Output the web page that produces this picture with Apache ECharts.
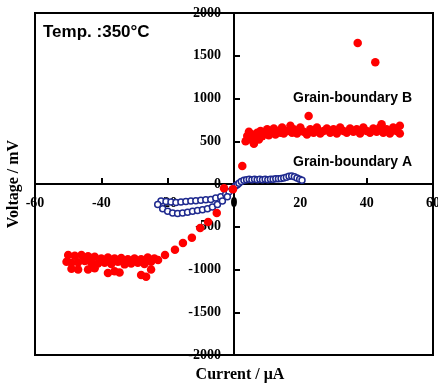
<!DOCTYPE html>
<html>
<head>
<meta charset="utf-8">
<script src="https://cdn.jsdelivr.net/npm/echarts@6/dist/echarts.min.js"></script>
<style>
  html, body { margin: 0; padding: 0; background: #fff; }
  #chart { width: 438px; height: 383px; }
</style>
</head>
<body>
<div id="chart"></div>
<script>
// Grain-boundary B (red filled)
const bCurrent = [
  -0.3, -3, 2.5, -5.2, -7.8, -10.2, -12.7, -15.4, -17.8, -20.8, -22.9,
  -50, -48, -46, -44, -42, -40, -38, -36, -34, -32, -30, -28, -26, -24,
  -50.5, -49, -47, -45, -43, -41, -39, -37, -35, -33, -31, -29, -27, -25,
  -49, -47, -44, -42, -38, -36, -34.5, -28, -26.5, -25,
  3.5, 4, 4.5, 5, 5.5, 6, 6.5, 7, 7.5, 8, 8.5, 9, 10, 10.5, 11, 12, 12.5, 13, 14, 14.5,
  15, 16, 17, 17.5, 18, 19, 20, 21, 22, 22.5, 23, 24, 25, 26, 27, 28, 29, 30, 31, 32,
  33, 34, 35, 36, 37, 37.3, 38, 39, 40, 41, 42, 42.6, 43, 44, 44.5, 45, 46, 47, 48, 49, 50, 50
];
const bVoltage = [
  -60, -50, 210, -340, -445, -515, -630, -690, -770, -830, -890,
  -830, -840, -830, -845, -850, -870, -860, -870, -865, -880, -870, -880, -860, -870,
  -910, -920, -915, -900, -925, -930, -920, -935, -910, -940, -930, -920, -935, -910,
  -990, -1000, -1000, -985, -1040, -1020, -1035, -1065, -1085, -1000,
  500, 560, 610, 520, 580, 470, 560, 600, 520, 620, 560, 600, 640, 570, 610, 650, 580, 620, 600, 660,
  590, 620, 680, 600, 640, 590, 660, 610, 580, 795, 640, 600, 660, 590, 620, 650, 600, 640, 590, 660,
  620, 600, 650, 610, 640, 1650, 590, 660, 620, 600, 650, 1425, 610, 660, 700, 600, 640, 590, 660, 620, 680, 590
];

// Grain-boundary A (blue open)
const aCurrent = [
  -22, -20.5, -19, -17.5, -16, -14.5, -13, -11.5, -10, -8.5, -7, -5.5, -4, -2.5, -1.5,
  -23, -21.5, -20, -18.5, -17, -15.5, -14, -12.5, -11, -9.5, -8, -6.5, -5, -3.5, -2,
  -0.5, 0.5, 1,
  1.5, 2.2, 3, 3.8, 4.6, 5.4, 6.2, 7, 7.8, 8.6, 9.4, 10.2, 11, 11.8, 12.6, 13.4, 14.2,
  15, 15.8, 16.6, 17.4, 18.2, 19, 19.8, 20.5
];
const aVoltage = [
  -200, -205, -210, -215, -210, -205, -200, -195, -190, -185, -180, -165, -150, -120, -90,
  -240, -290, -320, -340, -345, -340, -330, -320, -310, -300, -290, -270, -240, -200, -150,
  -60, -20, -10,
  10, 30, 45, 50, 55, 50, 55, 50, 55, 50, 55, 50, 55, 55, 60, 60, 65,
  70, 80, 90, 95, 85, 70, 55, 45
];

const xTicks = { min: -60, max: 60, interval: 20 };
const yTicks = { min: -2000, max: 2000, interval: 500 };

const pairs = (xs, ys) => xs.map((x, i) => [x, ys[i]]);

const chart = echarts.init(document.getElementById('chart'));

const tickLabel = {
  color: '#000',
  fontFamily: 'Liberation Serif',
  fontWeight: 'bold',
  fontSize: 14,
  showMinLabel: true,
  showMaxLabel: true,
  hideOverlap: false,
  formatter: v => String(v)
};

chart.setOption({
  animation: false,
  backgroundColor: '#fff',
  grid: {
    left: 35, right: 5, top: 13, bottom: 28,
    containLabel: false,
    outerBoundsMode: 'none',
    show: true, borderColor: '#000', borderWidth: 2
  },
  xAxis: {
    type: 'value',
    position: 'bottom',
    offset: -171,
    min: xTicks.min, max: xTicks.max, interval: xTicks.interval,
    name: 'Current / μA',
    nameLocation: 'middle',
    nameGap: 183,
    nameTextStyle: { color: '#000', fontFamily: 'Liberation Serif', fontWeight: 'bold', fontSize: 16, padding: [0, 0, 0, 12] },
    axisLine: { onZero: false, lineStyle: { color: '#000', width: 2 } },
    axisTick: { inside: true, length: 6, lineStyle: { color: '#000', width: 2 } },
    axisLabel: Object.assign({ margin: 12 }, tickLabel),
    splitLine: { show: false }
  },
  yAxis: {
    type: 'value',
    position: 'left',
    offset: -199,
    min: yTicks.min, max: yTicks.max, interval: yTicks.interval,
    name: 'Voltage / mV',
    nameLocation: 'middle',
    nameRotate: 90,
    nameGap: 212,
    nameTextStyle: { color: '#000', fontFamily: 'Liberation Serif', fontWeight: 'bold', fontSize: 16 },
    axisLine: { onZero: false, lineStyle: { color: '#000', width: 2 } },
    axisTick: { inside: true, length: 6, lineStyle: { color: '#000', width: 2 } },
    axisLabel: Object.assign({ margin: 13 }, tickLabel),
    splitLine: { show: false }
  },
  graphic: [
    {
      type: 'text', left: 43, top: 24,
      style: { text: 'Temp. :350°C', fill: '#000', font: 'bold 17px "Liberation Sans"' }
    },
    {
      type: 'text', left: 293, top: 91,
      style: { text: 'Grain-boundary B', fill: '#000', font: 'bold 14px "Liberation Sans"' }
    },
    {
      type: 'text', left: 293, top: 155,
      style: { text: 'Grain-boundary A', fill: '#000', font: 'bold 14px "Liberation Sans"' }
    }
  ],
  series: [
    {
      name: 'Grain-boundary A',
      type: 'scatter',
      data: pairs(aCurrent, aVoltage),
      symbol: 'circle',
      symbolSize: 6,
      itemStyle: { color: '#fff', borderColor: '#1f2a8f', borderWidth: 1.5, opacity: 1 }
    },
    {
      name: 'Grain-boundary B',
      type: 'scatter',
      data: pairs(bCurrent, bVoltage),
      symbol: 'circle',
      symbolSize: 8.5,
      itemStyle: { color: '#ff0000', opacity: 1 }
    }
  ]
});
</script>
</body>
</html>
